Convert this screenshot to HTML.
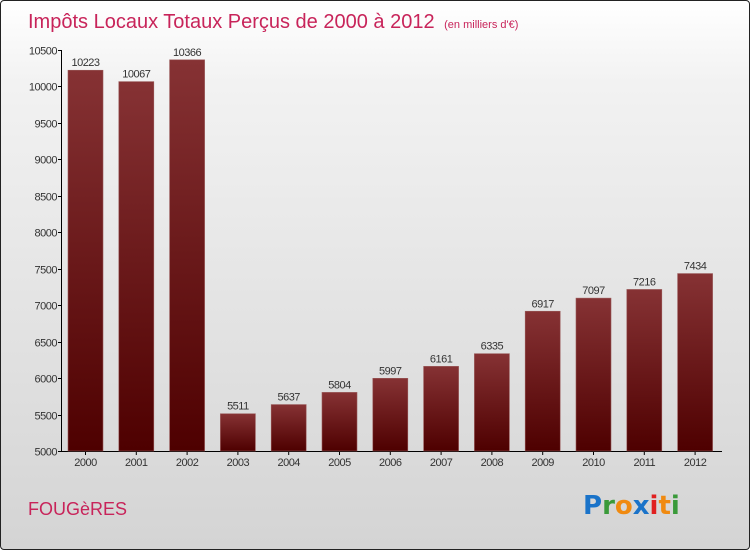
<!DOCTYPE html>
<html><head><meta charset="utf-8"><style>
body{margin:0}
#wrap{width:748px;height:548px;border:1px solid #222;border-radius:4px;overflow:hidden;background:linear-gradient(#ffffff,#f2f2f2 15%,#d4d4d4 100%);position:relative;font-family:"Liberation Sans","DejaVu Sans",sans-serif}
</style></head><body>
<div id="wrap">
<svg id="svg" width="748" height="548" xmlns="http://www.w3.org/2000/svg">
<defs><linearGradient id="bg" x1="0" y1="0" x2="0" y2="1"><stop offset="0" stop-color="#863234"/><stop offset="1" stop-color="#4e0000"/></linearGradient></defs>
<text x="27" y="27" font-size="20" fill="#c8245a">Impôts Locaux Totaux Perçus de 2000 à 2012 <tspan font-size="11" dx="4">(en milliers d'€)</tspan></text>
<text x="27" y="514" font-size="18" fill="#c8245a">FOUGèRES</text>
<g font-size="26" font-weight="bold" font-family="'DejaVu Sans',sans-serif"><text x="582" y="513"><tspan fill="#1a73c9">P</tspan><tspan fill="#3a9a3a">r</tspan><tspan fill="#f08a10">o</tspan><tspan fill="#1a73c9">x</tspan><tspan fill="#e02020">i</tspan><tspan fill="#f08a10">t</tspan><tspan fill="#3a9a3a">i</tspan></text></g>
<g id="axes"></g><g id="bars"></g>
</svg></div>
<script>
const years=["2000","2001","2002","2003","2004","2005","2006","2007","2008","2009","2010","2011","2012"];
const values=[10223,10067,10366,5511,5637,5804,5997,6161,6335,6917,7097,7216,7434];
const ticks=[5000,5500,6000,6500,7000,7500,8000,8500,9000,9500,10000,10500];
const NS="http://www.w3.org/2000/svg";
const y0=450,ppu=36.45/500,vmin=5000;
function yS(v){return y0-(v-vmin)*ppu;}
function xS(i){return 84.5+i*50.8;}
function mk(t,a,p){const e=document.createElementNS(NS,t);for(const k in a)e.setAttribute(k,a[k]);p.appendChild(e);return e;}
const ax=document.getElementById('axes'),bg=document.getElementById('bars');
const yl=mk('line',{x1:60.5,x2:60.5,y1:yS(10500),y2:y0,stroke:'#000'},ax);


const xl=mk('line',{x1:60,x2:721,y1:y0+0.5,y2:y0+0.5,stroke:'#000'},ax);


ticks.forEach(t=>{const y=Math.round(yS(t))+0.5;
mk('line',{x1:57,x2:61,y1:y,y2:y,stroke:'#000'},ax);
const tx=mk('text',{x:56,y:y+4,'font-size':11,fill:'#333','text-anchor':'end','letter-spacing':'-0.5'},ax);tx.textContent=t;

});
years.forEach((yr,i)=>{const c=xS(i),v=values[i],top=yS(v);
const r=mk('rect',{x:c-17.5,y:top,width:35,height:y0-top,fill:'url(#bg)',stroke:'#9a5a5a','stroke-width':0.6},bg);


const lb=mk('text',{x:c,y:top-4,'font-size':11,fill:'#333','text-anchor':'middle','letter-spacing':'-0.5'},bg);lb.textContent=v;


mk('line',{x1:c,x2:c,y1:y0,y2:y0+4,stroke:'#000'},ax);
const xt=mk('text',{x:c,y:y0+15,'font-size':11,fill:'#333','text-anchor':'middle','letter-spacing':'-0.5'},ax);xt.textContent=yr;

});
</script>
</body></html>
